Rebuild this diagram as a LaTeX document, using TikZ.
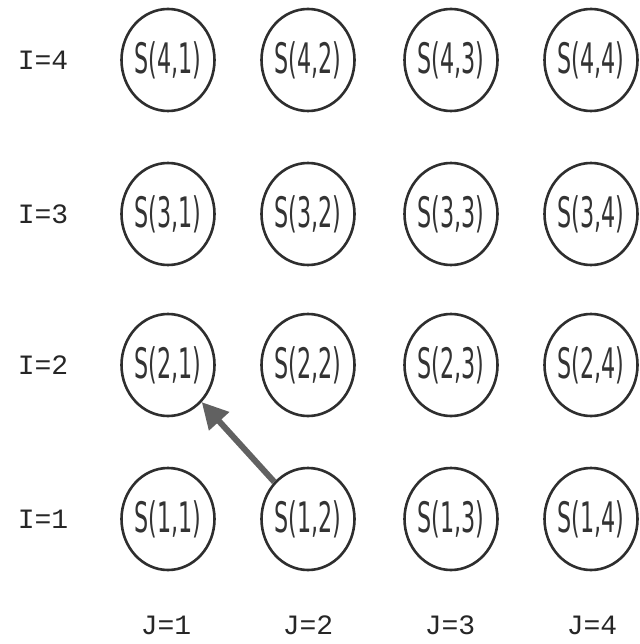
\documentclass[tikz,border=0pt]{standalone}
\usepackage{fontspec}
\usepackage{graphicx}
\setmainfont{DejaVu Sans}
\newfontfamily\labfont{Liberation Mono}
\usetikzlibrary{shapes.geometric,arrows.meta}
\tikzset{
  snode/.style={ellipse, draw=black!82, line width=2.6pt, minimum width=93pt, minimum height=102pt, inner sep=0pt, font=\fontsize{42}{42}\selectfont, text=black!80},
  lab/.style={font=\labfont\fontsize{28}{28}\selectfont, text=black!85},
  bigarrow/.style={draw=black!62, line width=6pt, -{Triangle[length=26pt,width=26pt]}}
}
\newcommand{\sq}[1]{\makebox[0pt]{\scalebox{0.53}[1]{#1}}}
\begin{document}
\begin{tikzpicture}[x=1pt,y=-1pt]
\useasboundingbox (0,0) rectangle (639,644);
\foreach \i/\y in {4/60,3/214,2/365,1/519}{
  \foreach \j/\x in {1/168,2/308,3/451,4/591}{
    \node[snode] (s\i\j) at (\x,\y) {\sq{S(\i,\j)}};
  }
  \node[lab] (i\i) at (43,\y) {I=\i};
}
\foreach \j/\x in {1/166,2/308,3/450,4/592}{
  \node[lab] (j\j) at (\x,625) {J=\j};
}
\draw[bigarrow] (s12) -- (s21);
\end{tikzpicture}
\end{document}
